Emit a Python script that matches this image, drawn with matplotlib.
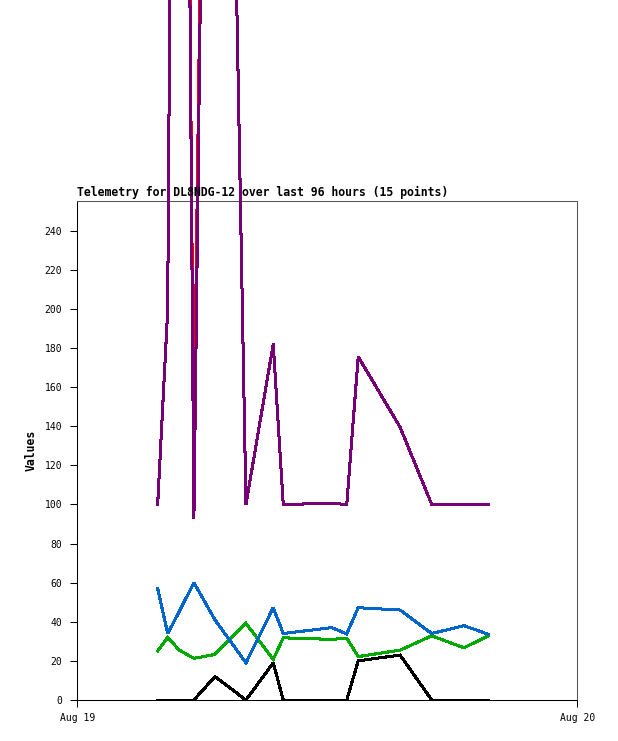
"""
Telemetry chart for DL8NDG-12, last 96 hours.
Values read off the reference picture.
"""
import matplotlib
matplotlib.use("Agg")
import matplotlib.pyplot as plt

TITLE = "Telemetry for DL8NDG-12 over last 96 hours (15 points)"
FONT = "DejaVu Sans Mono"

# hours after Aug 19 00:00
hours = [3.85, 4.33, 4.89, 5.59, 6.60, 8.09, 9.40, 9.88, 12.21, 12.93,
         13.48, 15.49, 17.01, 18.56, 19.73]

ch_red = [100, 199, 1070, 160, 965, 100, 182, 100, 100.5, 100, 175.5, 139.5, 100, 100, 100]
ch_green = [25, 32, 25.5, 21.3, 23.3, 39.2, 20.8, 31.8, 31, 31.6, 22.2, 25.5, 32.8, 26.7, 32.8]
ch_blue = [57, 34, 45.3, 60, 41, 19, 47.2, 34, 37, 33.8, 47.2, 46, 34, 38, 33.6]
ch_purple = [100, 199, 1070, 93, 965, 100, 182, 100, 100.5, 100, 175.5, 139.5, 100, 100, 100]
ch_black = [0, 0, 0, 0, 12, 0, 19, 0, 0, 0, 20, 23, 0, 0, 0]

y_ticks = list(range(0, 241, 20))
x_ticks = [0, 24]
x_labels = ["Aug 19", "Aug 20"]


def main():
    fig = plt.figure(figsize=(6.18, 7.41), dpi=100)
    ax = fig.add_axes([0.1254, 0.0553, 0.8087, 0.674])

    # red sits under the purple trace, only a sliver shows
    series = [
        (ch_red, "#ff0000", 0.4, False),
        (ch_green, "#00aa00", 1.45, True),
        (ch_blue, "#0066cc", 1.45, True),
        (ch_purple, "#770077", 1.45, False),
        (ch_black, "#000000", 1.45, True),
    ]
    for values, color, lw, clip in series:
        ax.plot(hours, values, color=color, lw=lw, clip_on=clip,
                antialiased=False, zorder=3, solid_joinstyle="miter")

    ax.set_xlim(0, 24)
    ax.set_ylim(0, 255.3)
    ax.set_yticks(y_ticks)
    ax.set_yticklabels([str(v) for v in y_ticks], family=FONT, fontsize=7)
    ax.set_xticks(x_ticks)
    ax.set_xticklabels(x_labels, family=FONT, fontsize=7)
    ax.tick_params(axis="both", direction="out", length=5, width=0.75, color="black")
    ax.tick_params(axis="y", pad=6)
    ax.tick_params(axis="x", pad=4.5)

    ax.set_ylabel("Values", family=FONT, fontsize=8.3, fontweight="bold", labelpad=5)
    ax.set_title(TITLE, loc="left", family=FONT, fontsize=8.3, fontweight="bold", pad=3.5)

    for side in ["left", "bottom"]:
        ax.spines[side].set_color("black")
        ax.spines[side].set_linewidth(0.75)
    for side in ["top", "right"]:
        ax.spines[side].set_color("#555555")
        ax.spines[side].set_linewidth(0.75)

    fig.savefig("out.png", dpi=100)


if __name__ == '__main__':
    main()
